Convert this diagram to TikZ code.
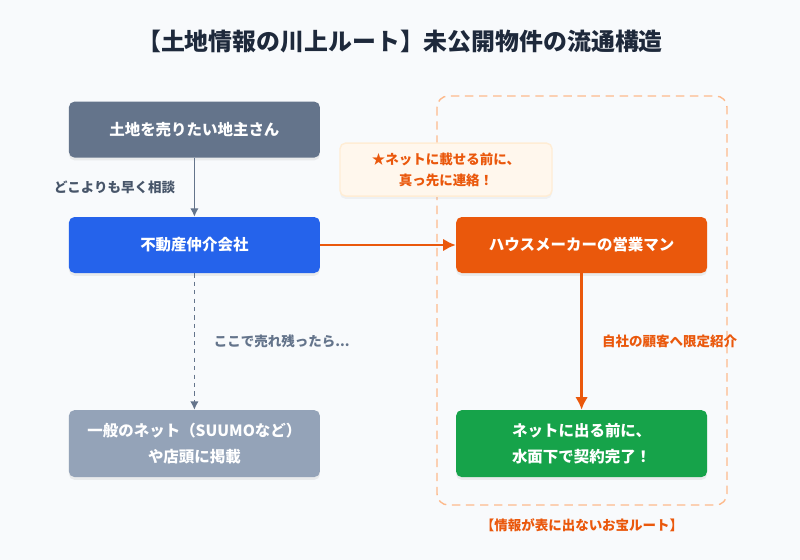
\documentclass[tikz,border=0pt]{standalone}
\usepackage{fontspec}
\setmainfont{Noto Sans CJK JP}
\usepackage{xcolor}
\usepackage{tikz}
\usetikzlibrary{arrows.meta,positioning,calc,shadows}
\definecolor{bgcol}{HTML}{F8FAFC}
\definecolor{titlecol}{HTML}{1E293B}
\definecolor{ownercol}{HTML}{64748B}
\definecolor{agentcol}{HTML}{2563EB}
\definecolor{portalcol}{HTML}{94A3B8}
\definecolor{makercol}{HTML}{EA580C}
\definecolor{dealcol}{HTML}{16A34A}
\definecolor{notefill}{HTML}{FFF7ED}
\definecolor{notedraw}{HTML}{FFEDD5}
\definecolor{zonecol}{HTML}{FDBA8C}
\definecolor{labcol}{HTML}{475569}
\tikzset{
  Pbox/.style={rounded corners=4pt, align=center,
               font=\bfseries\fontsize{11}{15}\selectfont,
               text=white, minimum width=6.275cm, minimum height=1.4cm,
               inner sep=3pt,
               drop shadow={opacity=0.12, shadow xshift=0pt, shadow yshift=-2pt}},
  Pnote/.style={draw=notedraw, line width=1pt, fill=notefill, rounded corners=4pt,
                align=center, font=\bfseries\fontsize{9.6}{13}\selectfont, text=makercol,
                minimum width=5.3cm, minimum height=1.325cm,
                drop shadow={opacity=0.08, shadow xshift=0pt, shadow yshift=-2pt}},
  Plab/.style={font=\bfseries\fontsize{9.6}{12}\selectfont},
  Garr/.style={-{Latex[length=6pt,width=6pt]}, draw=ownercol, line width=1pt},
  Oarr/.style={-{Latex[length=9pt,width=9pt]}, draw=makercol, line width=2pt}
}

\begin{document}
\begin{tikzpicture}
  \fill[bgcol] (0,0) rectangle (20,-14);
  \useasboundingbox (0,0) rectangle (20,-14);

  \node[font=\bfseries\fontsize{17}{20}\selectfont, text=titlecol] (title) at (10,-1.05)
    {【土地情報の川上ルート】未公開物件の流通構造};

  % hidden route
  \draw[zonecol, line width=1pt, dash pattern=on 6pt off 4pt, rounded corners=8pt]
    (10.925,-2.4) rectangle (18.175,-12.625);
  \node[Plab, text=makercol] (zone) at (14.55,-13.125)
    {【情報が表に出ないお宝ルート】};

  \node[Pbox, fill=ownercol] (owner) at (4.86,-3.24) {土地を売りたい地主さん};
  \node[Pbox, fill=agentcol] (agent) at (4.86,-6.125) {不動産仲介会社};
  \node[Pbox, fill=portalcol, minimum height=1.675cm] (portal) at (4.86,-11.09)
    {一般のネット（SUUMOなど）\\[3pt]や店頭に掲載};
  \node[Pbox, fill=makercol] (maker) at (14.54,-6.125) {ハウスメーカーの営業マン};
  \node[Pbox, fill=dealcol, minimum height=1.675cm] (deal) at (14.54,-11.09)
    {ネットに出る前に、\\[3pt]水面下で契約完了！};

  \node[Pnote] (note) at (11.15,-4.24) {★ネットに載せる前に、\\[2pt]真っ先に連絡！};

  \draw[Garr] (owner.south)--(agent.north);
  \node[Plab, text=labcol, anchor=east] (consult) at (4.5,-4.675) {どこよりも早く相談};

  \draw[Garr, dashed] (agent.south)--(portal.north);
  \node[Plab, text=ownercol, anchor=west] (unsold) at (5.225,-8.525) {ここで売れ残ったら...};

  \draw[Oarr] (agent.east)--(maker.west);
  \draw[Oarr] (maker.south)--(deal.north);
  \node[Plab, text=makercol, anchor=west] (intro) at (14.93,-8.525) {自社の顧客へ限定紹介};
\end{tikzpicture}
\end{document}
